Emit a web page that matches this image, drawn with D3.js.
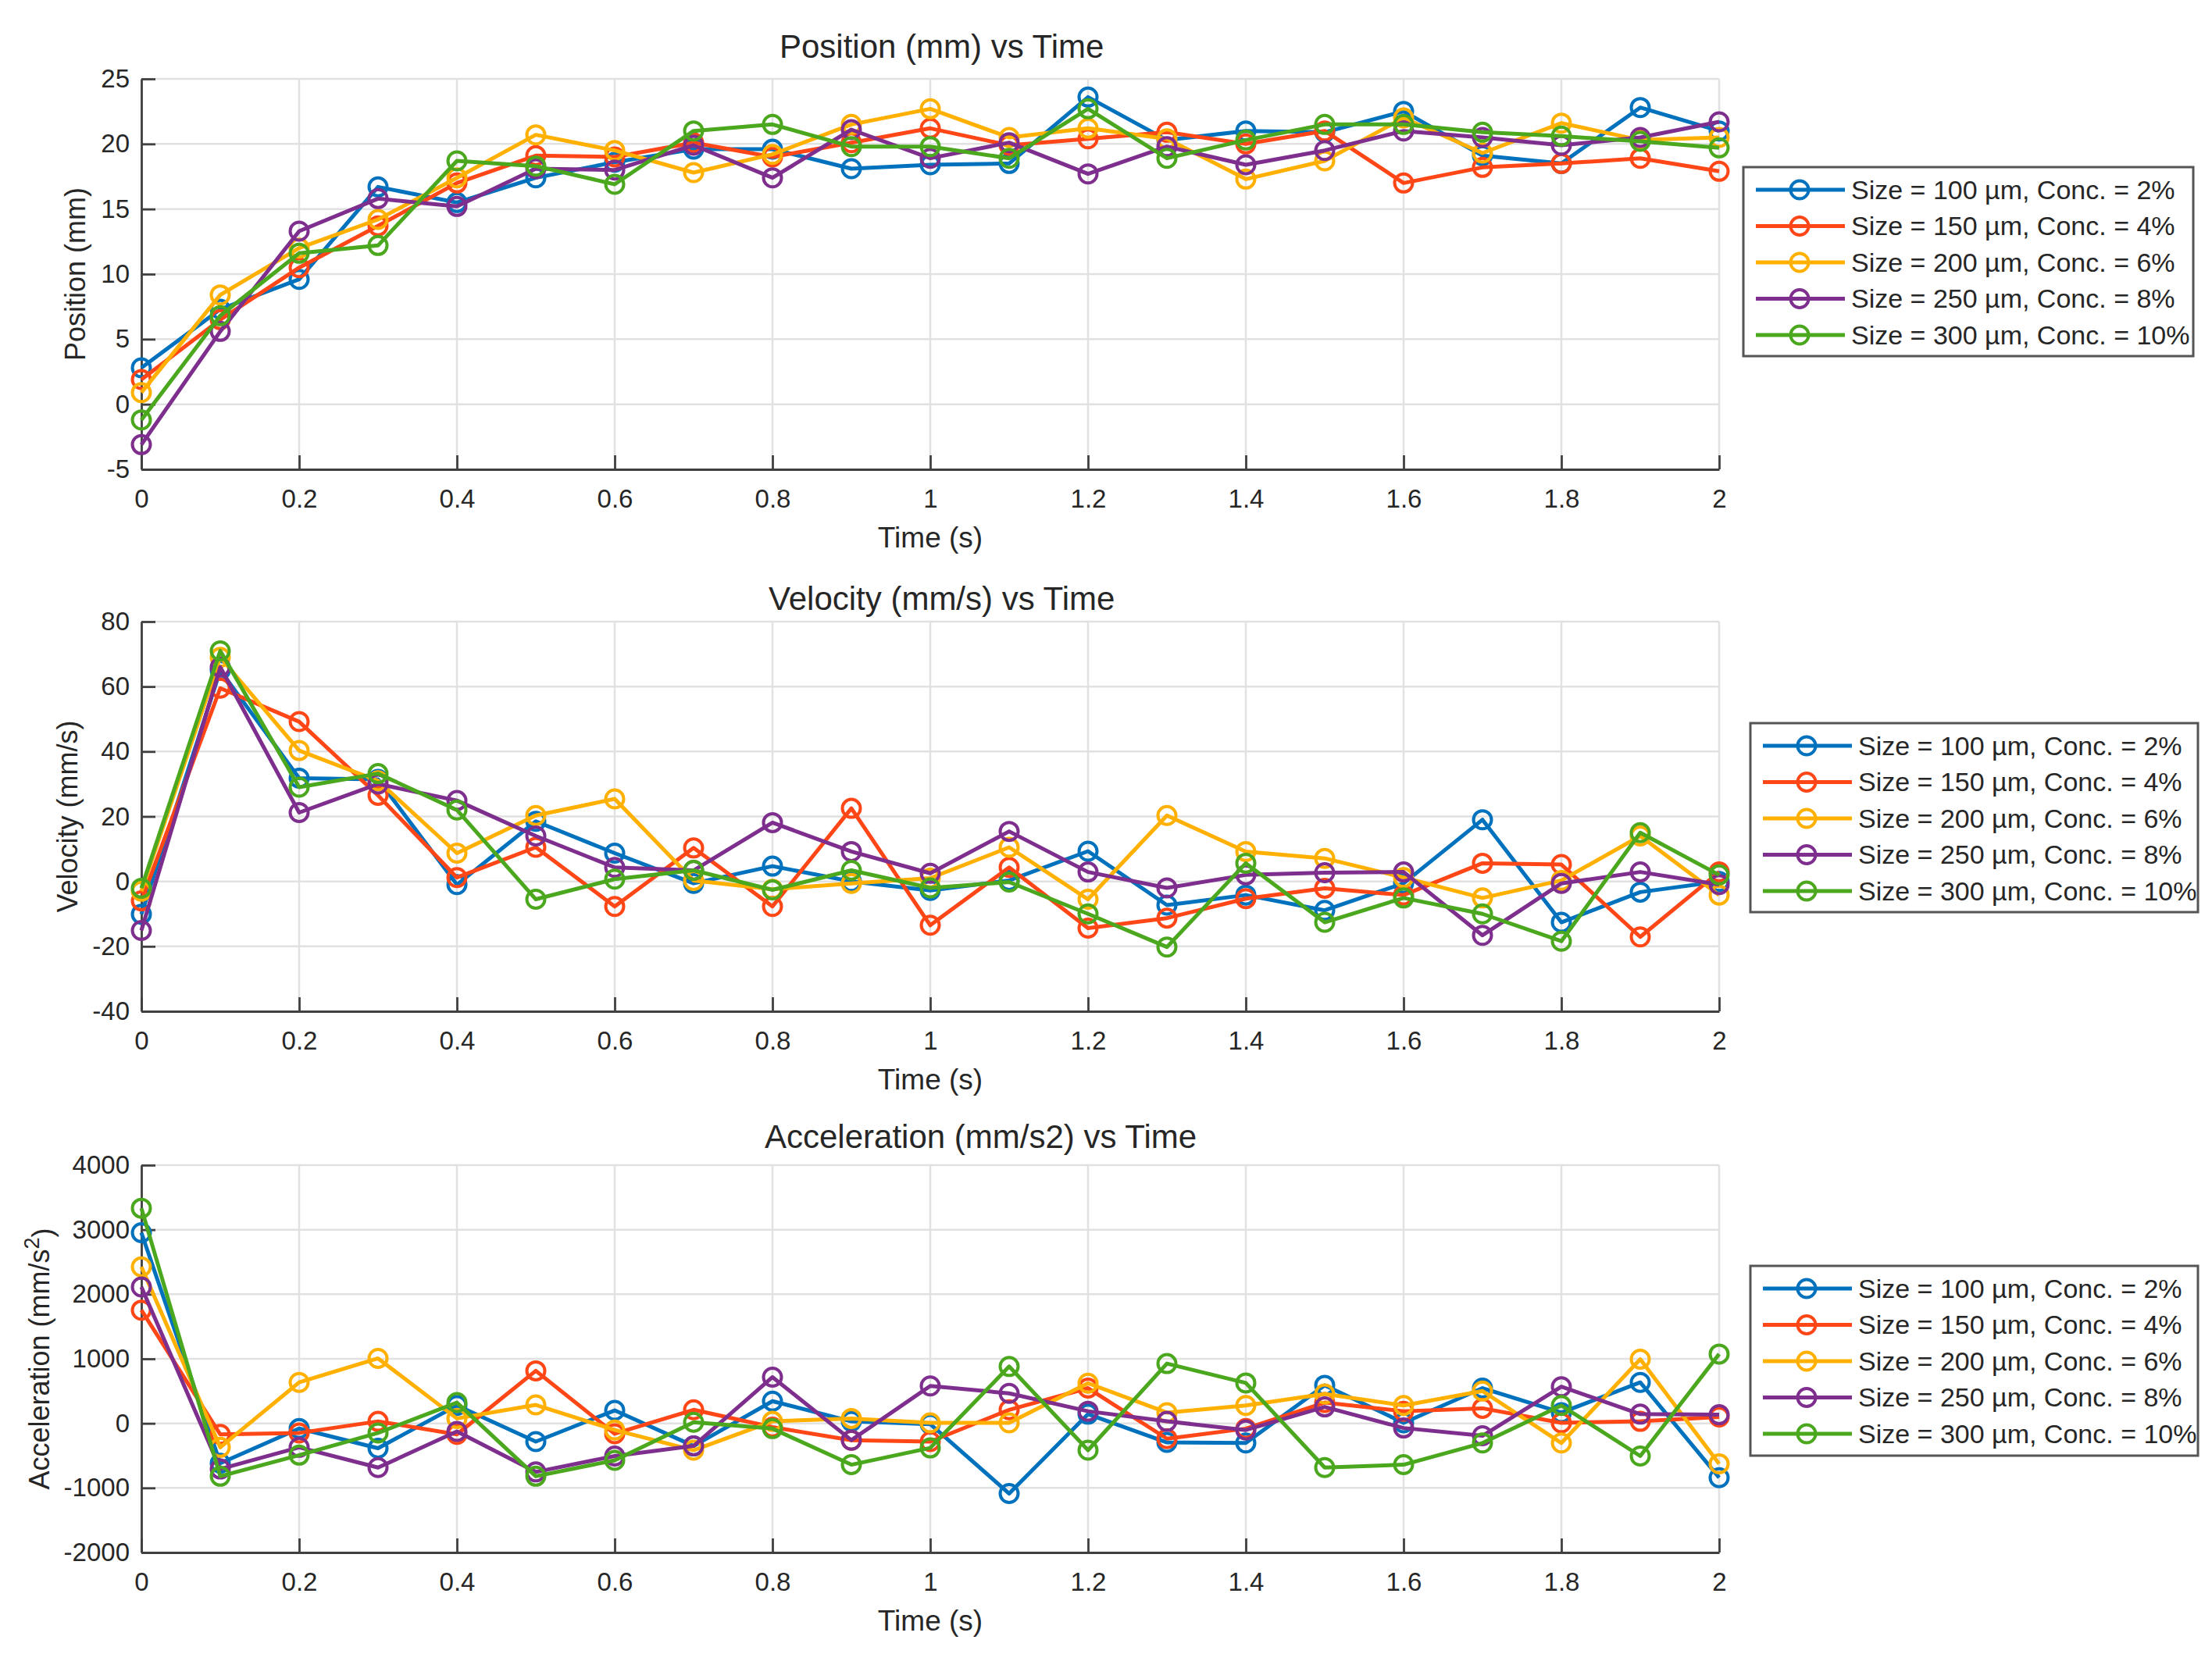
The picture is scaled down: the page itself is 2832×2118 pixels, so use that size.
<!DOCTYPE html>
<html>
<head>
<meta charset="utf-8">
<script src="https://cdn.jsdelivr.net/npm/d3@7/dist/d3.min.js"></script>
<style>
  body { margin: 0; background: #fff; }
  text { font-family: "Liberation Sans", Arial, Helvetica, sans-serif; fill: #262626; }
</style>
</head>
<body>
<div id="chart"></div>
<script>
// ---- data ----
const timeS = [0, 0.1, 0.2, 0.3, 0.4, 0.5, 0.6, 0.7, 0.8, 0.9, 1.0,
               1.1, 1.2, 1.3, 1.4, 1.5, 1.6, 1.7, 1.8, 1.9, 2.0];

const seriesLabels = [
  'Size = 100 µm, Conc. = 2%',
  'Size = 150 µm, Conc. = 4%',
  'Size = 200 µm, Conc. = 6%',
  'Size = 250 µm, Conc. = 8%',
  'Size = 300 µm, Conc. = 10%'
];

// position (mm), one row per series
const positionMm = [
  [2.8, 7.3, 9.6, 16.7, 15.5, 17.4, 18.6, 19.6, 19.6, 18.1, 18.4, 18.5, 23.6, 20.3, 21.0, 20.9, 22.5, 19.1, 18.5, 22.8, 21.0],
  [1.9, 6.5, 10.5, 13.7, 17.0, 19.1, 19.0, 20.1, 19.0, 20.1, 21.2, 19.9, 20.4, 20.9, 20.0, 21.0, 17.0, 18.2, 18.5, 18.9, 17.9],
  [0.9, 8.4, 12.0, 14.2, 17.4, 20.7, 19.5, 17.8, 19.2, 21.5, 22.7, 20.5, 21.2, 20.4, 17.3, 18.7, 22.0, 19.3, 21.6, 20.3, 20.5],
  [-3.1, 5.6, 13.3, 15.8, 15.2, 18.1, 18.0, 19.9, 17.4, 21.1, 18.9, 20.1, 17.7, 19.8, 18.4, 19.5, 21.0, 20.5, 19.9, 20.5, 21.7],
  [-1.2, 6.8, 11.6, 12.2, 18.7, 18.3, 16.9, 21.0, 21.5, 19.8, 19.8, 18.9, 22.7, 18.9, 20.3, 21.5, 21.5, 20.9, 20.6, 20.2, 19.7]
];

// velocity (mm/s)
const velocityMms = [
  [-10.1, 65, 31.8, 31.4, -1, 18.5, 8.7, -0.6, 4.7, 0, -2.8, 0.3, 9.3, -7.3, -4.2, -8.9, -0.6, 19, -12.6, -3.3, 0],
  [-6, 59.5, 49.2, 26.5, 1.2, 10.5, -7.7, 10.3, -7.7, 22.5, -13.5, 4.3, -14.4, -11.3, -5.3, -2.1, -4.2, 5.6, 5.2, -17.1, 2.9],
  [-3, 69, 40.3, 31, 8.7, 20.3, 25.4, 0.3, -2.4, -0.6, 1, 10.5, -5.5, 20.3, 9.2, 7.1, 1.2, -5.1, 0.3, 14, -4.2],
  [-15.1, 66, 21.2, 30, 24.9, 14, 4.3, 3.4, 18.1, 9.2, 2.5, 15.4, 2.9, -2, 2, 2.7, 2.9, -16.6, -0.6, 2.9, -1],
  [-2.1, 71, 29, 33.2, 22, -5.5, 0.7, 3.4, -2.6, 3.4, -2, -0.2, -10, -20.2, 5.6, -12.6, -5.1, -10, -18.4, 15, 2]
];

// acceleration (mm/s^2)
const accelerationMms2 = [
  [2953, -617, -80, -385, 277, -282, 201, -350, 344, 31, -13, -1087, 143, -295, -304, 590, 9, 546, 166, 635, -841],
  [1754, -170, -148, 31, -170, 814, -161, 210, -58, -260, -282, 210, 546, -237, -81, 322, 188, 233, 9, 31, 98],
  [2425, -371, 635, 1007, 76, 286, -103, -416, 31, 76, 9, 9, 622, 166, 277, 456, 277, 501, -304, 993, -626],
  [2112, -707, -371, -685, -125, -752, -506, -349, 716, -260, 580, 465, 188, 31, -103, 255, -72, -192, 568, 143, 134],
  [3333, -819, -492, -148, 322, -819, -573, 18, -81, -640, -380, 881, -416, 926, 626, -685, -640, -304, 277, -506, 1074]
];

const xTicks = [0, 0.2, 0.4, 0.6, 0.8, 1, 1.2, 1.4, 1.6, 1.8, 2];
const posTicks = [-5, 0, 5, 10, 15, 20, 25];
const velTicks = [-40, -20, 0, 20, 40, 60, 80];
const accTicks = [-2000, -1000, 0, 1000, 2000, 3000, 4000];

const colors = ['#0072BD', '#FF4616', '#FFB000', '#7E2F8E', '#4BA81E'];

// ---- layout ----
const W = 2832, H = 2118;
const plotLeft = 181, plotRight = 2201;

const panels = [
  { title: 'Position (mm) vs Time', titleX: 998, titleY: 74,
    ylabel: 'Position (mm)', ylabelX: 96,
    data: positionMm, ticks: posTicks, top: 101, bottom: 601,
    legend: { x: 2232, y: 214, w: 576, h: 242 } },
  { title: 'Velocity (mm/s) vs Time', titleX: 984, titleY: 781,
    ylabel: 'Velocity (mm/s)', ylabelX: 86,
    data: velocityMms, ticks: velTicks, top: 796, bottom: 1295,
    legend: { x: 2241, y: 926, w: 573, h: 242 } },
  { title: 'Acceleration (mm/s2) vs Time', titleX: 979, titleY: 1470,
    ylabel: 'Acceleration (mm/s', ylabelSup: '2', ylabelX: 50,
    data: accelerationMms2, ticks: accTicks, top: 1492, bottom: 1988,
    legend: { x: 2241, y: 1621, w: 573, h: 243 } }
];

// plain hyphen minus, like the reference
const fmt = d => String(d);

const svg = d3.select('#chart').append('svg')
  .attr('width', W)
  .attr('height', H)
  .attr('viewBox', `0 0 ${W} ${H}`);

svg.append('rect').attr('width', W).attr('height', H).attr('fill', '#fff');

const x = d3.scaleLinear().domain([0, 2]).range([plotLeft, plotRight]);

panels.forEach(p => {
  const y = d3.scaleLinear()
    .domain([p.ticks[0], p.ticks[p.ticks.length - 1]])
    .range([p.bottom, p.top]);

  const g = svg.append('g');

  // grid
  g.append('g').selectAll('line')
    .data(xTicks)
    .join('line')
    .attr('x1', d => x(d)).attr('x2', d => x(d))
    .attr('y1', p.top).attr('y2', p.bottom)
    .attr('stroke', '#e1e1e1').attr('stroke-width', 2.5);

  g.append('g').selectAll('line')
    .data(p.ticks)
    .join('line')
    .attr('x1', plotLeft).attr('x2', plotRight)
    .attr('y1', d => y(d)).attr('y2', d => y(d))
    .attr('stroke', '#e1e1e1').attr('stroke-width', 2.5);

  // axes
  const xAxis = g.append('g')
    .attr('transform', `translate(0,${p.bottom})`)
    .call(d3.axisBottom(x).tickValues(xTicks).tickFormat(fmt)
      .tickSizeInner(-18).tickSizeOuter(0).tickPadding(26));

  const yAxis = g.append('g')
    .attr('transform', `translate(${plotLeft},0)`)
    .call(d3.axisLeft(y).tickValues(p.ticks).tickFormat(fmt)
      .tickSizeInner(-18).tickSizeOuter(0).tickPadding(15));

  [xAxis, yAxis].forEach(a => {
    a.attr('font-size', null).attr('font-family', null);
    a.select('.domain').attr('stroke', '#404040').attr('stroke-width', 2.8);
    a.selectAll('.tick line').attr('stroke', '#404040').attr('stroke-width', 2.8);
    a.selectAll('.tick text').style('font-size', '33px').attr('fill', '#262626');
  });

  // series
  const line = d3.line()
    .x((d, i) => x(timeS[i]))
    .y(d => y(d));

  p.data.forEach((vals, si) => {
    const s = g.append('g');
    s.append('path')
      .datum(vals)
      .attr('d', line)
      .attr('fill', 'none')
      .attr('stroke', colors[si])
      .attr('stroke-width', 5)
      .attr('stroke-linejoin', 'round');
    s.selectAll('circle')
      .data(vals)
      .join('circle')
      .attr('cx', (d, i) => x(timeS[i]))
      .attr('cy', d => y(d))
      .attr('r', 11.5)
      .attr('fill', 'none')
      .attr('stroke', colors[si])
      .attr('stroke-width', 4);
  });

  // title
  g.append('text')
    .attr('x', p.titleX).attr('y', p.titleY)
    .style('font-size', '42px')
    .text(p.title);

  // x label
  g.append('text')
    .attr('x', (plotLeft + plotRight) / 2)
    .attr('y', p.bottom + 100)
    .attr('text-anchor', 'middle')
    .style('font-size', '37px')
    .text('Time (s)');

  // y label
  const yl = g.append('text')
    .attr('transform', `translate(${p.ylabelX},${(p.top + p.bottom) / 2}) rotate(-90)`)
    .attr('text-anchor', 'middle')
    .attr('dy', '0.35em')
    .style('font-size', '36px');
  yl.append('tspan').text(p.ylabel);
  if (p.ylabelSup) {
    yl.append('tspan').attr('dy', '-0.45em').style('font-size', '27px').text(p.ylabelSup);
    yl.append('tspan').attr('dy', '0.45em').text(')');
  }

  // legend
  const L = p.legend;
  const lg = g.append('g').attr('transform', `translate(${L.x},${L.y})`);
  lg.append('rect')
    .attr('width', L.w).attr('height', L.h)
    .attr('fill', '#fff')
    .attr('stroke', '#555').attr('stroke-width', 3);

  seriesLabels.forEach((lab, si) => {
    const ry = 29 + si * 46.5;
    lg.append('line')
      .attr('x1', 16).attr('x2', 130)
      .attr('y1', ry).attr('y2', ry)
      .attr('stroke', colors[si]).attr('stroke-width', 5);
    lg.append('circle')
      .attr('cx', 72).attr('cy', ry).attr('r', 11.5)
      .attr('fill', 'none')
      .attr('stroke', colors[si]).attr('stroke-width', 4);
    lg.append('text')
      .attr('x', 138).attr('y', ry)
      .attr('dy', '0.35em')
      .style('font-size', '34px')
      .text(lab);
  });
});
</script>
</body>
</html>
